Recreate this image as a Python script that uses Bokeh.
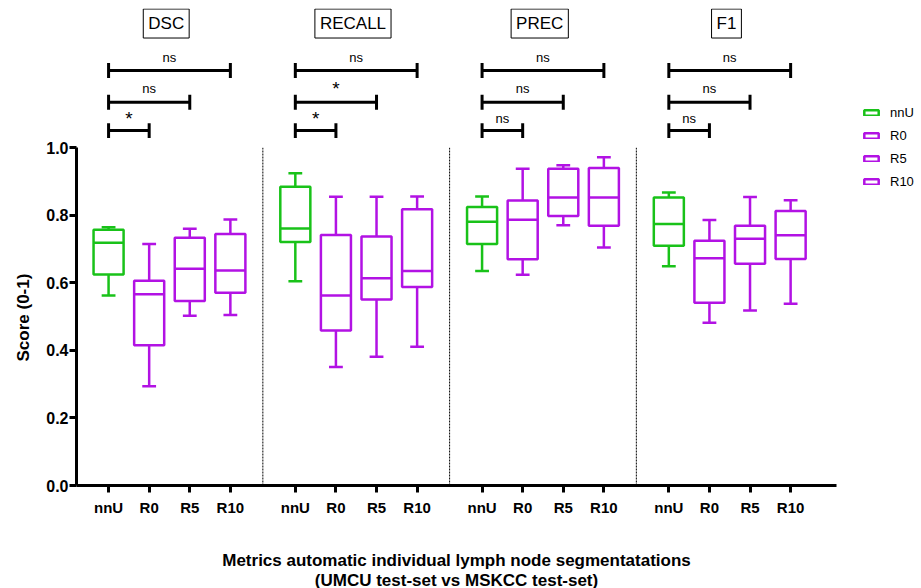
from bokeh.plotting import figure
from bokeh.models import (Range1d, FixedTicker, Legend, LegendItem, ColumnDataSource, Title)
from bokeh.core.properties import value
from bokeh.embed import file_html
from bokeh.resources import INLINE

# ---------------- data ----------------
metrics = ["DSC", "RECALL", "PREC", "F1"]
methods = ["nnU", "R0", "R5", "R10"]

# per metric: lists in order of methods
dsc_min = [0.563, 0.294, 0.503, 0.505]
dsc_q1 = [0.625, 0.415, 0.546, 0.571]
dsc_med = [0.719, 0.566, 0.642, 0.637]
dsc_q3 = [0.757, 0.606, 0.734, 0.745]
dsc_max = [0.765, 0.715, 0.760, 0.788]

recall_min = [0.605, 0.351, 0.381, 0.411]
recall_q1 = [0.721, 0.459, 0.551, 0.588]
recall_med = [0.761, 0.563, 0.614, 0.635]
recall_q3 = [0.885, 0.742, 0.737, 0.818]
recall_max = [0.925, 0.855, 0.855, 0.856]

prec_min = [0.635, 0.624, 0.771, 0.705]
prec_q1 = [0.715, 0.670, 0.798, 0.769]
prec_med = [0.781, 0.787, 0.853, 0.853]
prec_q3 = [0.825, 0.844, 0.938, 0.940]
prec_max = [0.856, 0.938, 0.948, 0.972]

f1_min = [0.649, 0.482, 0.518, 0.538]
f1_q1 = [0.710, 0.541, 0.657, 0.671]
f1_med = [0.774, 0.673, 0.731, 0.741]
f1_q3 = [0.853, 0.725, 0.769, 0.813]
f1_max = [0.868, 0.786, 0.854, 0.845]

# significance vs nnU (R0, R5, R10)
dsc_sig = ["*", "ns", "ns"]
recall_sig = ["*", "*", "ns"]
prec_sig = ["ns", "ns", "ns"]
f1_sig = ["ns", "ns", "ns"]

y_ticks = [0.0, 0.2, 0.4, 0.6, 0.8, 1.0]
y_axis_title = "Score (0-1)"
x_axis_title = "Metrics automatic individual lymph node segmentatations\n(UMCU test-set vs MSKCC test-set)"

# ---------------- styling / layout ----------------
GREEN = "#19c219"
PURPLE = "#b212e4"
colors = [GREEN, PURPLE, PURPLE, PURPLE]
GROUP_STEP = 4.6
BOX_HALF = 0.37
CAP_HALF = 0.17
LW = 2.5
SANS = "'Liberation Sans', Arial, sans-serif"

stats = {
    "DSC": (dsc_min, dsc_q1, dsc_med, dsc_q3, dsc_max, dsc_sig),
    "RECALL": (recall_min, recall_q1, recall_med, recall_q3, recall_max, recall_sig),
    "PREC": (prec_min, prec_q1, prec_med, prec_q3, prec_max, prec_sig),
    "F1": (f1_min, f1_q1, f1_med, f1_q3, f1_max, f1_sig),
}

def xpos(g, i):
    return g * GROUP_STEP + i

p = figure(frame_width=760, frame_height=477, output_backend="svg", toolbar_location=None,
           x_range=Range1d(-0.79, 17.93), y_range=Range1d(0, 1.4125),
           min_border_left=76, min_border_right=85, min_border_top=8, min_border_bottom=10)
p.outline_line_color = None
p.grid.visible = False

# separators
sep_x = [g * GROUP_STEP - (GROUP_STEP - 3) / 2 for g in range(1, len(metrics))]
p.segment(x0=sep_x, y0=[0] * len(sep_x), x1=sep_x, y1=[1] * len(sep_x),
          line_color="black", line_width=1, line_dash="2 1")

legend_items = []
for i, m in enumerate(methods):
    xs = [xpos(g, i) for g in range(len(metrics))]
    mins = [stats[k][0][i] for k in metrics]
    q1s = [stats[k][1][i] for k in metrics]
    meds = [stats[k][2][i] for k in metrics]
    q3s = [stats[k][3][i] for k in metrics]
    maxs = [stats[k][4][i] for k in metrics]
    src = ColumnDataSource(dict(x=xs, l=[x - BOX_HALF for x in xs], r=[x + BOX_HALF for x in xs],
                                cl=[x - CAP_HALF for x in xs], cr=[x + CAP_HALF for x in xs],
                                mn=mins, q1=q1s, med=meds, q3=q3s, mx=maxs))
    c = colors[i]
    p.segment(x0="x", y0="q3", x1="x", y1="mx", source=src, line_color=c, line_width=LW)
    p.segment(x0="x", y0="mn", x1="x", y1="q1", source=src, line_color=c, line_width=LW)
    p.segment(x0="cl", y0="mx", x1="cr", y1="mx", source=src, line_color=c, line_width=LW)
    p.segment(x0="cl", y0="mn", x1="cr", y1="mn", source=src, line_color=c, line_width=LW)
    r = p.quad(left="l", right="r", bottom="q1", top="q3", source=src,
               fill_color="white", line_color=c, line_width=LW)
    p.segment(x0="l", y0="med", x1="r", y1="med", source=src, line_color=c, line_width=LW)
    legend_items.append(LegendItem(label=m, renderers=[r]))

# significance brackets
BR_Y = [1.051, 1.135, 1.229]
BR_TXT_Y = [1.087, 1.176, 1.267]
TICK_H = 0.022
bx0, bx1, by, tx, ty, tt, tsz = [], [], [], [], [], [], []
for g, k in enumerate(metrics):
    sig = stats[k][5]
    for lvl in range(3):
        a = xpos(g, 0)
        b = xpos(g, lvl + 1)
        bx0.append(a); bx1.append(b); by.append(BR_Y[lvl])
        tx.append((a + b) / 2); ty.append(BR_TXT_Y[lvl]); tt.append(sig[lvl])
        tsz.append("19px" if sig[lvl] == "*" else "13px")
p.segment(x0=bx0, y0=by, x1=bx1, y1=by, line_color="black", line_width=3)
p.segment(x0=bx0, y0=[y - TICK_H for y in by], x1=bx0, y1=[y + TICK_H for y in by],
          line_color="black", line_width=3)
p.segment(x0=bx1, y0=[y - TICK_H for y in by], x1=bx1, y1=[y + TICK_H for y in by],
          line_color="black", line_width=3)
sig_src = ColumnDataSource(dict(x=tx, y=ty, t=tt, s=tsz))
p.text(x="x", y="y", text="t", text_font_size="s", source=sig_src, text_font=value(SANS),
       text_align="center", text_baseline="middle", text_color="black")

# metric titles
title_src = ColumnDataSource(dict(x=[xpos(g, 0) + 1.42 for g in range(len(metrics))],
                                  y=[1.368] * len(metrics), t=metrics))
p.text(x="x", y="y", text="t", source=title_src, text_font=value(SANS), text_font_size="17px",
       text_align="center", text_baseline="middle", text_color="black",
       border_line_color="black", border_line_width=1, background_fill_color="white", padding=5)

# axes
p.xaxis.ticker = FixedTicker(ticks=[xpos(g, i) for g in range(len(metrics)) for i in range(len(methods))])
p.xaxis.major_label_overrides = {xpos(g, i): methods[i] for g in range(len(metrics)) for i in range(len(methods))}
p.yaxis.bounds = (0, 1)
p.yaxis.ticker = FixedTicker(ticks=y_ticks)
p.yaxis.major_label_overrides = {t: f"{t:.1f}" for t in y_ticks}
for ax in (p.xaxis[0], p.yaxis[0]):
    ax.axis_line_width = 3
    ax.major_tick_line_width = 3
    ax.major_tick_in = 0
    ax.major_tick_out = 7
    ax.minor_tick_line_color = None
    ax.major_label_text_font_style = "bold"
    ax.major_label_text_color = "black"
p.xaxis.major_label_text_font = SANS
p.xaxis.major_label_text_font_size = "15px"
p.xaxis.major_label_standoff = 6
p.yaxis.major_label_text_font = SANS
p.yaxis.major_label_text_font_size = "16px"
p.yaxis.major_label_standoff = 1

p.xaxis.axis_label = x_axis_title
p.xaxis.axis_label_standoff = 32
p.xaxis.axis_label_text_font = SANS
p.xaxis.axis_label_text_font_style = "bold"
p.xaxis.axis_label_text_font_size = "17px"
p.xaxis.axis_label_text_line_height = 1.06
p.xaxis.axis_label_text_color = "black"

p.add_layout(Title(text=y_axis_title, align="left", offset=124, standoff=22,
                   text_font=SANS, text_font_style="bold", text_font_size="17px",
                   text_color="black"), "left")

legend = Legend(items=legend_items, location=(26, 294), orientation="vertical",
                glyph_width=18, glyph_height=7, label_height=20, spacing=3, padding=0, margin=0,
                label_standoff=10, border_line_color=None, background_fill_alpha=0,
                label_text_font=SANS, label_text_font_size="13px", label_text_color="black")
p.add_layout(legend, "right")

open("out.html", "w").write(file_html(p, INLINE))
